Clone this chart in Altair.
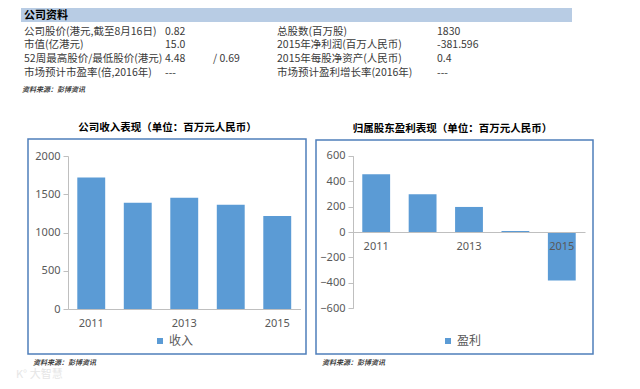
import altair as alt
import pandas as pd

# ---------------- data ----------------
years = ['2011', '2012', '2013', '2014', '2015']
revenue = [1720, 1390, 1455, 1362, 1215]
profit = [454, 296, 197, 8, -381.6]
revenue_ticks = [0, 500, 1000, 1500, 2000]
profit_ticks = [-600, -400, -200, 0, 200, 400, 600]
x_tick_labels = ['2011', '2013', '2015']

chart_titles = ['公司收入表现（单位：百万元人民币）', '归属股东盈利表现（单位：百万元人民币）']
legend_names = ['收入', '盈利']
source_note = '资料来源：彭博资讯'
watermark = 'K° 大智慧'
table_header = '公司资料'
table_left_labels = ['公司股价(港元,截至8月16日)', '市值(亿港元)',
                     '52周最高股价/最低股价(港元)', '市场预计市盈率(倍,2016年)']
table_left_values = ['0.82', '15.0', '4.48', '---']
table_low_price = ['', '', '/ 0.69', '']
table_right_labels = ['总股数(百万股)', '2015年净利润(百万人民币)',
                      '2015年每股净资产(人民币)', '市场预计盈利增长率(2016年)']
table_right_values = ['1830', '-381.596', '0.4', '---']

# ---------------- styles ----------------
W, H = 624, 373
CJK = 'Noto Sans CJK SC'
NUM = 'Noto Sans'
GREY = '#595959'
AXIS = '#bfbfbf'
BLUE = '#5b9bd5'
FRAME = '#4f7fbb'
TABLE_TXT = '#3a3a3a'

rows = list(range(len(table_left_labels)))
table_df = pd.DataFrame({
    'row': rows,
    'llab': table_left_labels,
    'lval': table_left_values,
    'low': table_low_price,
    'rlab': table_right_labels,
    'rval': table_right_values,
})


def single_text(t, x, y, **kw):
    return alt.Chart(pd.DataFrame({'t': [t]})).mark_text(**kw).encode(
        text='t:N', x=alt.value(x), y=alt.value(y))


def table_col(field, x):
    return alt.Chart(table_df).mark_text(
        align='left', baseline='middle', font=CJK, fontSize=10.5, color=TABLE_TXT
    ).encode(
        text=f'{field}:N',
        x=alt.value(x),
        y=alt.Y('row:Q', scale=alt.Scale(domain=[0, 3], range=[23.6, 64.8], zero=False, nice=False), axis=None),
    )


def frame(x0, x1, y0, y1):
    return alt.Chart(pd.DataFrame({'k': [0]})).mark_rect(
        fill='transparent', stroke=FRAME, strokeWidth=1.5
    ).encode(x=alt.value(x0), x2=alt.value(x1), y=alt.value(y0), y2=alt.value(y1))


def bars(values, name, xr, yr, ydom, yticks, xoff, yoff, lx, ly):
    df = pd.DataFrame({'year': years, 'value': values, 'series': name})
    return alt.Chart(df).mark_bar().encode(
        x=alt.X('year:O',
                scale=alt.Scale(range=xr, paddingInner=0.4, paddingOuter=0.2),
                axis=alt.Axis(title=None, orient='bottom', offset=xoff, values=x_tick_labels,
                              labelAngle=0, ticks=False, domainColor=AXIS, domainWidth=1,
                              labelColor=GREY, labelFont=NUM, labelFontSize=11,
                              labelPadding=8, zindex=1)),
        y=alt.Y('value:Q',
                scale=alt.Scale(domain=ydom, range=yr, nice=False, zero=False),
                axis=alt.Axis(title=None, orient='left', offset=yoff, values=yticks, grid=False,
                              format='d', tickSize=5, tickColor=AXIS, domainColor=AXIS,
                              labelColor=GREY, labelFont=NUM, labelFontSize=11,
                              labelPadding=3)),
        color=alt.Color('series:N',
                        scale=alt.Scale(domain=[name], range=[BLUE]),
                        legend=alt.Legend(title=None, orient='none', legendX=lx, legendY=ly,
                                          symbolType='square', symbolSize=36,
                                          symbolStrokeWidth=0, labelFont=CJK,
                                          labelFontSize=12, labelColor=GREY,
                                          labelOffset=3, padding=0)),
    )


header_rect = alt.Chart(pd.DataFrame({'k': [0]})).mark_rect(color='#b8cce4').encode(
    x=alt.value(13), x2=alt.value(564), y=alt.value(0), y2=alt.value(14))

layers = [
    header_rect,
    single_text(table_header, 16, 7.5, align='left', baseline='middle', font=CJK,
                fontSize=11, fontWeight='bold', color='#000000'),
    table_col('llab', 16),
    table_col('lval', 157),
    table_col('low', 205),
    table_col('rlab', 269),
    table_col('rval', 429),
    single_text(source_note, 14, 82, align='left', baseline='middle', font=CJK,
                fontSize=7, fontStyle='italic', fontWeight='bold', color='#404040'),
    frame(20, 298, 131, 346),
    frame(308, 585, 132, 346),
    single_text(chart_titles[0], 159.5, 120, align='center', baseline='middle', font=CJK,
                fontSize=10.5, fontWeight='bold', color='#000000'),
    single_text(chart_titles[1], 444.5, 121, align='center', baseline='middle', font=CJK,
                fontSize=10.5, fontWeight='bold', color='#000000'),
    bars(revenue, legend_names[0], [60, 292.5], [301, 148], [0, 2000], revenue_ticks,
         -72, -60, 146, 327),
    bars(profit, legend_names[1], [345, 577], [300.3, 147.7], [-600, 600], profit_ticks,
         -149, -345, 434, 327),
    single_text(source_note, 25, 355, align='left', baseline='middle', font=CJK,
                fontSize=7, fontStyle='italic', fontWeight='bold', color='#404040'),
    single_text(source_note, 314, 355, align='left', baseline='middle', font=CJK,
                fontSize=7, fontStyle='italic', fontWeight='bold', color='#404040'),
    single_text(watermark, 8, 367, align='left', baseline='middle', font=CJK,
                fontSize=11, color='#e6e6e6'),
]

chart = alt.layer(*layers).resolve_scale(
    x='independent', y='independent', color='independent'
).properties(
    width=W, height=H, autosize='none', padding=0
).configure_view(stroke='transparent')

chart.save("out.html", embed_options={"renderer": "svg", "actions": False})
